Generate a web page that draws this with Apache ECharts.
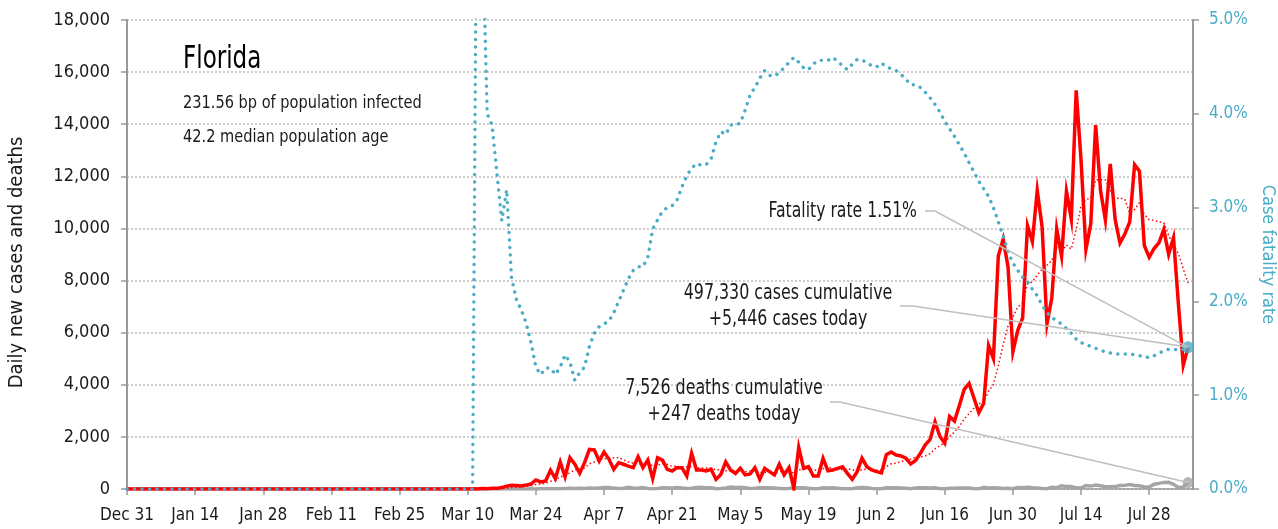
<!DOCTYPE html>
<html>
<head>
<meta charset="utf-8">
<script src="https://cdn.jsdelivr.net/npm/echarts@6/dist/echarts.min.js"></script>
<style>
  html, body { margin: 0; padding: 0; background: #fff; }
  #mainChart { width: 1278px; height: 529px; }
</style>
</head>
<body>
<div id="mainChart"></div>
<script>
// Florida, daily values from Dec 31 (index 0) to Aug 4 (index 218)
var startDate = [2019, 11, 31];
var monthNames = ['Jan','Feb','Mar','Apr','May','Jun','Jul','Aug','Sep','Oct','Nov','Dec'];
var axisDays = 220;

var cases = [
	0,0,0,0,0,0,0,0,0,0, 0,0,0,0,0,0,0,0,0,0, 0,0,0,0,0,0,0,0,0,0,
	0,0,0,0,0,0,0,0,0,0, 0,0,0,0,0,0,0,0,0,0, 0,0,0,0,0,0,0,0,0,0, 0,0,
	2,0,1,0,1,4,6,1,2,9,2,19,11,24,24,55,
	110,140,130,115,150,190,345,270,310,720,400,1035,470,1200,950,600,1010,1520,1500,1075,
	1420,1150,755,1010,950,880,820,1240,820,1110,400,1200,1110,755,690,820,820,500,1370,730,
	730,690,755,370,560,1040,730,600,795,540,575,820,370,795,665,540,950,540,820,25,
	1600,795,855,500,500,1180,700,730,790,855,600,370,665,1180,855,730,667,617,1317,1419,
	1305,1270,1180,966,1096,1371,1698,1902,2581,2016,1758,2783,2610,3207,3822,4049,3494,2926,3289,5508,
	5004,8942,9585,8530,5266,6093,6563,10109,9488,11458,10059,6336,7347,9989,8935,11433,10360,15300,12624,9194,
	10181,13965,11466,10328,12478,10347,9440,9785,10249,12444,12199,9344,8892,9230,9446,9956,9007,9642,7104,4752,5446
];

var casesAvg = [
	0,0,0,0,0,0,0,0,0,0, 0,0,0,0,0,0,0,0,0,0, 0,0,0,0,0,0,0,0,0,0,
	0,0,0,0,0,0,0,0,0,0, 0,0,0,0,0,0,0,0,0,0, 0,0,0,0,0,0,0,0,0,0, 0,0,
	0.3,0.3,0.4,0.4,0.6,1.1,2,1.9,2.1,3.3,3.6,6.1,7.1,9.7,13,21,
	35,55,71,85,103,127,169,191,216,300,341,467,507,629,726,768,809,969,1036,1122,
	1154,1182,1204,1204,1123,1034,998,972,925,976,889,924,957,948,869,869,828,842,866,812,
	809,809,799,735,744,696,696,678,693,662,691,729,633,642,651,615,674,669,669,619,
	734,753,798,734,728,779,876,751,751,751,765,746,673,741,759,751,724,726,862,969,
	987,1046,1111,1153,1222,1230,1269,1355,1542,1661,1775,2016,2193,2408,2682,2892,3103,3270,3342,3756,
	4013,4745,5535,6255,6589,6990,7140,7870,7948,8215,8434,8587,8766,9255,9087,9365,9208,9957,10855,11119,
	11147,11865,11870,11865,11462,11137,11172,11116,10585,10724,10992,10544,10336,10306,10258,10216,9725,9360,9040,8448,7908
];

var deaths = [
	0,0,0,0,0,0,0,0,0,0, 0,0,0,0,0,0,0,0,0,0, 0,0,0,0,0,0,0,0,0,0,
	0,0,0,0,0,0,0,0,0,0, 0,0,0,0,0,0,0,0,0,0, 0,0,0,0,0,0,0,0,0,0, 0,0,0,0,0,0,0,0,
	2,0,0,0,0,0,1,1,1,1,
	2,3,3,4,0,5,4,5,9,8,10,12,21,30,15,27,23,40,25,41,
	59,58,34,19,27,64,42,29,58,21,13,19,52,44,43,57,38,17,31,60,
	64,47,49,11,21,42,72,57,63,47,20,28,50,46,48,40,23,6,24,50,
	46,50,29,13,12,48,41,52,30,12,8,7,44,56,46,21,8,8,48,44,
	44,38,27,8,36,50,46,43,48,12,8,31,25,43,39,41,8,7,65,43,
	44,40,24,29,11,58,44,67,46,41,18,9,63,48,120,93,95,45,35,132,
	112,156,128,90,90,92,134,139,173,135,124,77,77,186,216,253,257,179,62,73,247
];

// case fatality rate, percent
var fatality = [
	0,0,0,0,0,0,0,0,0,0, 0,0,0,0,0,0,0,0,0,0, 0,0,0,0,0,0,0,0,0,0,
	0,0,0,0,0,0,0,0,0,0, 0,0,0,0,0,0,0,0,0,0, 0,0,0,0,0,0,0,0,0,0, 0,0,0,0,0,0,0,0,0,0, 0,0,
	7.9,6.0,4.0,3.88,3.37,2.86,3.19,2.25,
	2.02,1.91,1.77,1.56,1.30,1.22,1.29,1.29,1.22,1.30,1.43,1.35,1.16,1.24,1.30,1.52,1.66,1.73,1.76,1.79,
	1.88,2.00,2.12,2.24,2.33,2.37,2.37,2.47,2.77,2.87,2.96,3.00,3.02,3.08,3.22,3.34,3.42,3.47,3.45,3.46,
	3.52,3.70,3.81,3.78,3.88,3.88,3.90,4.04,4.20,4.28,4.38,4.46,4.41,4.40,4.44,4.49,4.55,4.60,4.55,4.49,
	4.47,4.53,4.57,4.57,4.57,4.60,4.56,4.51,4.47,4.53,4.58,4.57,4.55,4.51,4.50,4.54,4.50,4.48,4.46,4.42,
	4.37,4.31,4.31,4.28,4.23,4.17,4.10,4.02,3.92,3.84,3.76,3.67,3.58,3.48,3.38,3.28,3.20,3.12,3.00,2.85,
	2.70,2.53,2.41,2.33,2.26,2.21,2.13,2.06,1.96,1.88,1.83,1.79,1.76,1.71,1.66,1.60,1.56,1.54,1.52,1.50,
	1.48,1.46,1.45,1.44,1.44,1.44,1.44,1.43,1.42,1.41,1.40,1.42,1.45,1.47,1.49,1.49,1.48,1.49,1.51
];

var stateName = 'Florida';
var infoLines = ['231.56 bp of population infected', '42.2 median population age'];
var fatalityNote = 'Fatality rate 1.51%';
var casesNote = '497,330 cases cumulative\n+5,446 cases today';
var deathsNote = '7,526 deaths cumulative\n+247 deaths today';

var FONT = "'DejaVu Sans Condensed', 'Liberation Sans Narrow', sans-serif";
var RED = '#ff0000', CYAN = '#4bacc6', GREY = '#a5a5a5', AXIS = '#999999';

function dayLabels(){
	var out = [];
	var d = new Date(startDate[0], startDate[1], startDate[2]);
	for (var i = 0; i < axisDays; i++) {
		out.push(monthNames[d.getMonth()] + ' ' + d.getDate());
		d.setDate(d.getDate() + 1);
	}
	return out;
}

// condensed looking text: drawn a bit larger, then squeezed horizontally
function note(x, y, text, size, squeeze, align, extra){
	var st = { text: text, fontSize: size, fontFamily: FONT, fill: '#1a1a1a', align: align, verticalAlign: 'middle', lineHeight: 26 };
	if (extra) { for (var k in extra) st[k] = extra[k]; }
	return { type: 'text', x: x, y: y, scaleX: squeeze, z: 20, style: st };
}

function showChart(){
	var myChart = echarts.init(document.getElementById('mainChart'));
	var last = cases.length - 1;
	option = {
		animation: false,
		grid: { left: 127, right: 85, top: 20, bottom: 40, outerBoundsMode: 'none', containLabel: false },
		xAxis: {
			type: 'category',
			data: dayLabels(),
			boundaryGap: false,
			axisLine: { lineStyle: { color: AXIS, width: 1.5 } },
			axisTick: { interval: 13, length: 6, lineStyle: { color: AXIS, width: 1.5 } },
			axisLabel: { interval: 13, margin: 18, fontSize: 17, color: '#1a1a1a', fontFamily: FONT },
			splitLine: { show: false }
		},
		yAxis: [{
			type: 'value',
			min: 0, max: 18000, interval: 2000,
			name: 'Daily new cases and deaths',
			nameLocation: 'middle',
			nameGap: 100,
			nameTextStyle: { fontSize: 20, color: '#1a1a1a', fontFamily: FONT, padding: [0, 16, 0, 0] },
			axisLine: { show: true, lineStyle: { color: AXIS, width: 2 } },
			axisTick: { show: true, length: 6, lineStyle: { color: AXIS, width: 1.5 } },
			axisLabel: {
				margin: 17, fontSize: 18, color: '#1a1a1a', fontFamily: FONT,
				formatter: function (v) { return v.toLocaleString('en-US'); }
			},
			splitLine: { lineStyle: { type: [2, 2], color: '#bdbdbd', width: 1.5 } }
		}, {
			type: 'value',
			position: 'right',
			min: 0, max: 5, interval: 1,
			name: 'Case fatality rate',
			nameLocation: 'middle',
			nameRotate: -90,
			nameGap: 60,
			nameTextStyle: { fontSize: 18, color: CYAN, fontFamily: FONT },
			axisLine: { show: true, lineStyle: { color: AXIS, width: 2 } },
			axisTick: { show: true, length: 6, lineStyle: { color: AXIS, width: 1.5 } },
			axisLabel: {
				margin: 16, fontSize: 17, color: CYAN, fontFamily: FONT,
				formatter: function (v) { return v.toFixed(1) + '%'; }
			},
			splitLine: { show: false }
		}],
		series: [{
			name: 'deaths',
			type: 'line',
			data: deaths,
			symbol: 'none',
			lineStyle: { color: GREY, width: 3.5, join: 'miter' }
		}, {
			name: 'cases 7 day',
			type: 'line',
			data: casesAvg,
			symbol: 'none',
			lineStyle: { color: RED, width: 1.5, type: [1.5, 2.5] }
		}, {
			name: 'cases',
			type: 'line',
			data: cases,
			symbol: 'none',
			lineStyle: { color: RED, width: 3.5, join: 'miter' }
		}, {
			name: 'fatality',
			type: 'line',
			yAxisIndex: 1,
			data: fatality,
			symbol: 'none',
			lineStyle: { color: CYAN, width: 3.4, type: [0.1, 7.4], cap: 'round' }
		}, {
			name: 'deaths end',
			type: 'scatter',
			data: [[last, deaths[last]]],
			symbolSize: 11,
			itemStyle: { color: GREY },
			z: 5
		}, {
			name: 'fatality end',
			type: 'scatter',
			yAxisIndex: 1,
			data: [[last, fatality[last]]],
			symbolSize: 12,
			itemStyle: { color: CYAN },
			z: 5
		}]
	};
	myChart.setOption(option);

	var pFat = myChart.convertToPixel({ xAxisIndex: 0, yAxisIndex: 1 }, [last, fatality[last]]);
	var pCases = myChart.convertToPixel({ xAxisIndex: 0, yAxisIndex: 0 }, [last, cases[last]]);
	var pDeaths = myChart.convertToPixel({ xAxisIndex: 0, yAxisIndex: 0 }, [last, deaths[last]]);

	var leader = { stroke: '#bfbfbf', lineWidth: 1.5, fill: null };
	myChart.setOption({
		graphic: [
			note(183, 60, stateName, 32, 0.8, 'left', { fill: '#000' }),
			note(183, 103, infoLines[0], 18.5, 0.875, 'left'),
			note(183, 137, infoLines[1], 18.5, 0.875, 'left'),
			note(917, 212, fatalityNote, 20.5, 0.85, 'right'),
			note(788, 307, casesNote, 20.5, 0.86, 'center'),
			note(724, 402, deathsNote, 20.5, 0.86, 'center'),
			{ type: 'polyline', z: 10, shape: { points: [[925, 211], [935, 211], pFat] }, style: leader },
			{ type: 'polyline', z: 10, shape: { points: [[900, 306], [913, 306], pCases] }, style: leader },
			{ type: 'polyline', z: 10, shape: { points: [[830, 402], [840, 402], pDeaths] }, style: leader }
		]
	});
}

showChart();
</script>
</body>
</html>
